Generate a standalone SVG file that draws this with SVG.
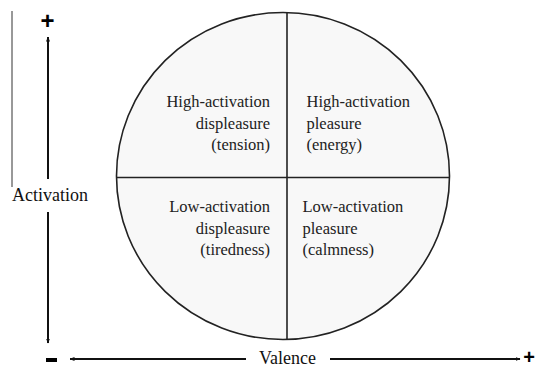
<svg xmlns="http://www.w3.org/2000/svg" width="538" height="368" viewBox="0 0 538 368">
<style>
.q{font-family:"Liberation Serif","Times New Roman",serif;font-size:16.5px;fill:#222}
.ax{font-family:"Liberation Serif","Times New Roman",serif;font-size:18px;fill:#111}
.sg{font-family:"Liberation Sans",Arial,sans-serif;font-weight:bold;fill:#000}
.ln{stroke:#111;stroke-width:2;fill:none}
</style>
<defs>
<marker id="ah" viewBox="0 0 10 10" refX="9" refY="5" markerWidth="5" markerHeight="5" orient="auto-start-reverse" markerUnits="userSpaceOnUse">
<path d="M0,1 L10,5 L0,9 Z" fill="#111"/>
</marker>
</defs>
<rect width="538" height="368" fill="#fff"/>
<g id="circle">
<ellipse cx="283" cy="176" rx="166.5" ry="163.5" fill="#f8f8f8" stroke="#222" stroke-width="1.6"/>
<line x1="287" y1="12.5" x2="287" y2="339.5" stroke="#222" stroke-width="1.6"/>
<line x1="116.5" y1="177.5" x2="449.5" y2="177.5" stroke="#222" stroke-width="1.6"/>
</g>
<g id="q-hd">
<text class="q" text-anchor="end" x="270" y="107">High-activation</text>
<text class="q" text-anchor="end" x="270" y="128.5">displeasure</text>
<text class="q" text-anchor="end" x="270" y="150">(tension)</text>
</g>
<g id="q-hp">
<text class="q" x="306.5" y="107">High-activation</text>
<text class="q" x="306.5" y="128.5">pleasure</text>
<text class="q" x="306.5" y="150">(energy)</text>
</g>
<g id="q-ld">
<text class="q" text-anchor="end" x="270" y="212">Low-activation</text>
<text class="q" text-anchor="end" x="270" y="233.5">displeasure</text>
<text class="q" text-anchor="end" x="270" y="255">(tiredness)</text>
</g>
<g id="q-lp">
<text class="q" x="302.5" y="212">Low-activation</text>
<text class="q" x="302.5" y="233.5">pleasure</text>
<text class="q" x="302.5" y="255">(calmness)</text>
</g>
<g id="connectors">
<line x1="12" y1="11" x2="12" y2="187" stroke="#333" stroke-width="1"/>
<line class="ln" x1="48" y1="37" x2="48" y2="179" marker-start="url(#ah)"/>
<line class="ln" x1="48" y1="212" x2="48" y2="343" marker-end="url(#ah)"/>
<line class="ln" x1="70" y1="359" x2="246" y2="359" marker-start="url(#ah)"/>
<line class="ln" x1="330" y1="359" x2="520" y2="359" marker-end="url(#ah)"/>
</g>
<g id="labels">
<text class="ax" x="12" y="200.5">Activation</text>
<text class="ax" x="259" y="364">Valence</text>
<text class="sg" font-size="24" text-anchor="middle" x="47.5" y="28.5">+</text>
<rect x="46" y="358" width="11" height="4" fill="#000"/>
<text class="sg" font-size="20" text-anchor="middle" x="529" y="363.5">+</text>
</g>
</svg>
